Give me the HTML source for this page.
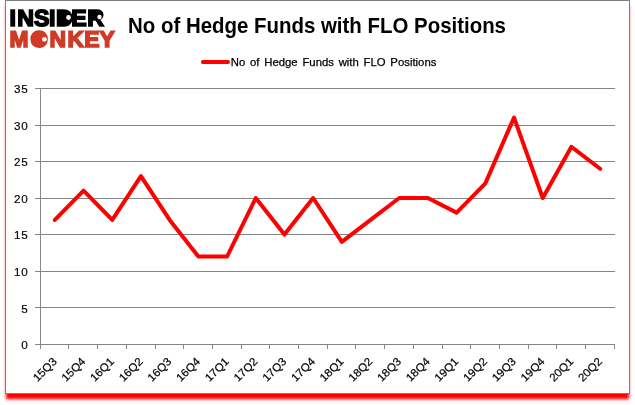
<!DOCTYPE html>
<html lang="en"><head><meta charset="utf-8"><title>No of Hedge Funds with FLO Positions</title>
<style>
html,body{margin:0;padding:0;background:#fff;}
body{width:635px;height:405px;overflow:hidden;position:relative;font-family:"Liberation Sans",sans-serif;}
svg{position:absolute;left:0;top:0;}
text{font-family:"Liberation Sans",sans-serif;}
</style></head><body>
<svg width="635" height="405" viewBox="0 0 635 405">

<defs><filter id="b" x="-5%" y="-5%" width="110%" height="110%"><feGaussianBlur stdDeviation="1.65"/></filter></defs>
<rect x="5.9" y="5.3" width="623.2" height="393.95" fill="#ff0000" filter="url(#b)"/>
<rect x="5.5" y="0.5" width="624" height="393" fill="#fff" stroke="#808080" stroke-width="1"/>
<g stroke="#868686" stroke-width="1" shape-rendering="crispEdges">
<line x1="35.0" y1="344.5" x2="615.0" y2="344.5"/>
<line x1="35.0" y1="307.5" x2="615.0" y2="307.5"/>
<line x1="35.0" y1="271.5" x2="615.0" y2="271.5"/>
<line x1="35.0" y1="234.5" x2="615.0" y2="234.5"/>
<line x1="35.0" y1="198.5" x2="615.0" y2="198.5"/>
<line x1="35.0" y1="161.5" x2="615.0" y2="161.5"/>
<line x1="35.0" y1="125.5" x2="615.0" y2="125.5"/>
<line x1="35.0" y1="88.5" x2="615.0" y2="88.5"/>
<line x1="40.5" y1="88" x2="40.5" y2="349"/>
<line x1="68.5" y1="344" x2="68.5" y2="349"/>
<line x1="97.5" y1="344" x2="97.5" y2="349"/>
<line x1="126.5" y1="344" x2="126.5" y2="349"/>
<line x1="155.5" y1="344" x2="155.5" y2="349"/>
<line x1="183.5" y1="344" x2="183.5" y2="349"/>
<line x1="212.5" y1="344" x2="212.5" y2="349"/>
<line x1="241.5" y1="344" x2="241.5" y2="349"/>
<line x1="269.5" y1="344" x2="269.5" y2="349"/>
<line x1="298.5" y1="344" x2="298.5" y2="349"/>
<line x1="327.5" y1="344" x2="327.5" y2="349"/>
<line x1="355.5" y1="344" x2="355.5" y2="349"/>
<line x1="384.5" y1="344" x2="384.5" y2="349"/>
<line x1="413.5" y1="344" x2="413.5" y2="349"/>
<line x1="442.5" y1="344" x2="442.5" y2="349"/>
<line x1="470.5" y1="344" x2="470.5" y2="349"/>
<line x1="499.5" y1="344" x2="499.5" y2="349"/>
<line x1="528.5" y1="344" x2="528.5" y2="349"/>
<line x1="556.5" y1="344" x2="556.5" y2="349"/>
<line x1="585.5" y1="344" x2="585.5" y2="349"/>
<line x1="614.5" y1="344" x2="614.5" y2="349"/>
</g>
<g font-size="10.8" text-anchor="end" letter-spacing="0.6" stroke="#000" stroke-width="0.15">
<text transform="translate(28.30,349.1) scale(1.080,1)">0</text>
<text transform="translate(28.30,312.5) scale(1.080,1)">5</text>
<text transform="translate(28.30,276.0) scale(1.080,1)">10</text>
<text transform="translate(28.30,239.4) scale(1.080,1)">15</text>
<text transform="translate(28.30,202.8) scale(1.080,1)">20</text>
<text transform="translate(28.30,166.2) scale(1.080,1)">25</text>
<text transform="translate(28.30,129.7) scale(1.080,1)">30</text>
<text transform="translate(28.30,93.1) scale(1.080,1)">35</text>
</g>
<g font-size="11.2" text-anchor="end" stroke="#000" stroke-width="0.2">
<text transform="translate(57.5,362.2) rotate(-45) scale(1.040,1)" x="0" y="0">15Q3</text>
<text transform="translate(86.1,362.2) rotate(-45) scale(1.040,1)" x="0" y="0">15Q4</text>
<text transform="translate(114.8,362.2) rotate(-45) scale(1.040,1)" x="0" y="0">16Q1</text>
<text transform="translate(143.5,362.2) rotate(-45) scale(1.040,1)" x="0" y="0">16Q2</text>
<text transform="translate(172.2,362.2) rotate(-45) scale(1.040,1)" x="0" y="0">16Q3</text>
<text transform="translate(200.9,362.2) rotate(-45) scale(1.040,1)" x="0" y="0">16Q4</text>
<text transform="translate(229.6,362.2) rotate(-45) scale(1.040,1)" x="0" y="0">17Q1</text>
<text transform="translate(258.4,362.2) rotate(-45) scale(1.040,1)" x="0" y="0">17Q2</text>
<text transform="translate(287.1,362.2) rotate(-45) scale(1.040,1)" x="0" y="0">17Q3</text>
<text transform="translate(315.8,362.2) rotate(-45) scale(1.040,1)" x="0" y="0">17Q4</text>
<text transform="translate(344.4,362.2) rotate(-45) scale(1.040,1)" x="0" y="0">18Q1</text>
<text transform="translate(373.2,362.2) rotate(-45) scale(1.040,1)" x="0" y="0">18Q2</text>
<text transform="translate(401.9,362.2) rotate(-45) scale(1.040,1)" x="0" y="0">18Q3</text>
<text transform="translate(430.6,362.2) rotate(-45) scale(1.040,1)" x="0" y="0">18Q4</text>
<text transform="translate(459.2,362.2) rotate(-45) scale(1.040,1)" x="0" y="0">19Q1</text>
<text transform="translate(487.9,362.2) rotate(-45) scale(1.040,1)" x="0" y="0">19Q2</text>
<text transform="translate(516.6,362.2) rotate(-45) scale(1.040,1)" x="0" y="0">19Q3</text>
<text transform="translate(545.4,362.2) rotate(-45) scale(1.040,1)" x="0" y="0">19Q4</text>
<text transform="translate(574.0,362.2) rotate(-45) scale(1.040,1)" x="0" y="0">20Q1</text>
<text transform="translate(602.8,362.2) rotate(-45) scale(1.040,1)" x="0" y="0">20Q2</text>
</g>
<polyline points="54.85,219.96 83.55,190.70 112.25,219.96 140.95,176.07 169.65,219.96 198.35,256.53 227.05,256.53 255.75,198.01 284.45,234.59 313.15,198.01 341.85,241.90 370.55,219.96 399.25,198.01 427.95,198.01 456.65,212.64 485.35,183.39 514.05,117.56 542.75,198.01 571.45,146.81 600.15,168.76" fill="none" stroke="#ff0000" stroke-width="4" stroke-linejoin="round" stroke-linecap="round"/>
<line x1="202.9" y1="62" x2="228" y2="62" stroke="#ff0000" stroke-width="4" stroke-linecap="round"/>
<text x="230.8" y="65.9" font-size="11.4" word-spacing="1.6" stroke="#000" stroke-width="0.25" textLength="205.6" lengthAdjust="spacingAndGlyphs">No of Hedge Funds with FLO Positions</text>
<text x="128.0" y="33.0" font-size="21.8" font-weight="bold" textLength="378" lengthAdjust="spacingAndGlyphs">No of Hedge Funds with FLO Positions</text>
<g font-weight="bold" stroke-linejoin="miter" style="text-rendering:geometricPrecision">
<text x="9.43 17.33 33.93 48.98 55.88 71.29 87.18" y="25.57" font-size="23.20" fill="#000" stroke="#000" stroke-width="1.60">INSIDER</text>
<text x="9.5 30.34 49.62 67.41 84.33 99.49" y="47.37" font-size="22.80" fill="#d03a27" stroke="#d03a27" stroke-width="1.60">MONKEY</text>
</g>
<rect x="60.5" y="11.5" width="8" height="12.5" rx="4" fill="#000"/>
<circle cx="68.5" cy="17.5" r="2.4" fill="#fff"/>
<rect x="92.5" y="11.5" width="8" height="7" rx="3" fill="#000"/>
<circle cx="99.5" cy="17" r="2.2" fill="#fff"/>
<circle cx="39.2" cy="39.3" r="6.5" fill="#d03a27"/>
<circle cx="44.4" cy="39.3" r="2.4" fill="#fff"/>
</svg></body></html>
